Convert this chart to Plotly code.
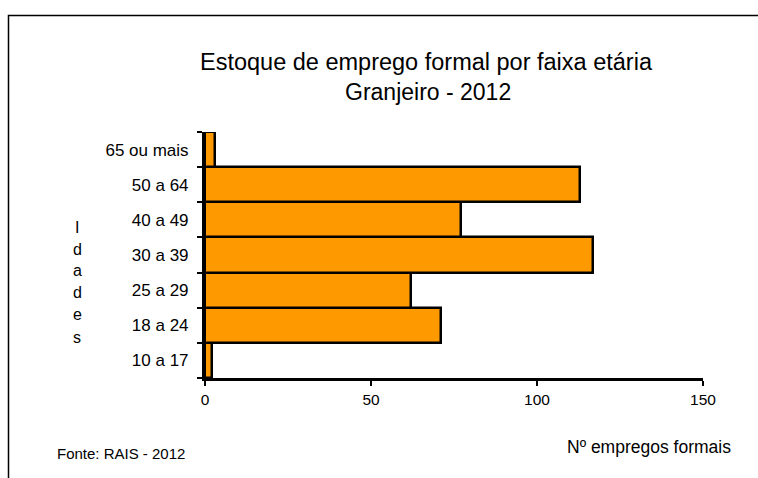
import plotly.graph_objects as go

categories = ["10 a 17", "18 a 24", "25 a 29", "30 a 39", "40 a 49", "50 a 64", "65 ou mais"]
values = [2, 71, 62, 117, 77, 113, 3]
x_ticks = [0, 50, 100, 150]
title_lines = ["Estoque de emprego formal por faixa etária", "Granjeiro - 2012"]
y_title_letters = ["I", "d", "a", "d", "e", "s"]
x_title = "Nº empregos formais"
source_text = "Fonte: RAIS - 2012"

W, H = 758, 478
L, R, T, B = 205, 55, 132, 100
PW, PH = W - L - R, H - T - B

def px(x):
    return (x - L) / PW

def py(y):
    return (H - B - y) / PH

FONT = "Liberation Sans, Arial, sans-serif"

fig = go.Figure(
    go.Bar(
        x=values,
        y=categories,
        orientation="h",
        marker=dict(color="#FF9900", line=dict(color="#000000", width=2.5)),
        hoverinfo="x+y",
    )
)

annotations = []
annotations.append(dict(text=title_lines[0], x=px(426), y=py(62), xref="paper", yref="paper",
                        showarrow=False, font=dict(size=23.5, color="black", family=FONT),
                        xanchor="center", yanchor="middle"))
annotations.append(dict(text=title_lines[1], x=px(428), y=py(92), xref="paper", yref="paper",
                        showarrow=False, font=dict(size=23, color="black", family=FONT),
                        xanchor="center", yanchor="middle"))
y_letter_pos = [227, 249, 270, 292, 314, 337]
for letter, yy in zip(y_title_letters, y_letter_pos):
    annotations.append(dict(text=letter, x=px(77), y=py(yy), xref="paper", yref="paper",
                            showarrow=False, font=dict(size=16, color="black", family=FONT),
                            xanchor="center", yanchor="middle"))
annotations.append(dict(text=x_title, x=px(733), y=py(447), xref="paper", yref="paper",
                        showarrow=False, font=dict(size=17.5, color="black", family=FONT),
                        xanchor="right", yanchor="middle"))
annotations.append(dict(text=source_text, x=px(55), y=py(453), xref="paper", yref="paper",
                        showarrow=False, font=dict(size=15, color="black", family=FONT),
                        xanchor="left", yanchor="middle"))

shapes = [dict(type="rect", xref="paper", yref="paper",
               x0=px(8.5), x1=px(770), y0=py(490), y1=py(15.5),
               line=dict(color="black", width=1.5), fillcolor="rgba(0,0,0,0)", layer="below")]

fig.update_layout(
    width=W, height=H,
    margin=dict(l=L, r=R, t=T, b=B, pad=0),
    paper_bgcolor="white", plot_bgcolor="white",
    bargap=0,
    showlegend=False,
    annotations=annotations,
    shapes=shapes,
    font=dict(family=FONT, color="black"),
)
fig.update_xaxes(
    range=[0, 150], tickvals=x_ticks, ticktext=[str(v) for v in x_ticks],
    showgrid=False, zeroline=False,
    showline=True, linecolor="black", linewidth=3,
    ticks="outside", ticklen=5, tickwidth=2, tickcolor="black",
    tickfont=dict(size=15.5, family=FONT, color="black"),
    fixedrange=True,
)
fig.update_yaxes(
    categoryorder="array", categoryarray=categories,
    showgrid=False, zeroline=False,
    showline=True, linecolor="black", linewidth=3,
    ticks="outside", ticklen=5, tickwidth=2, tickcolor="black", tickson="boundaries",
    tickfont=dict(size=17, family=FONT, color="black"),
    ticklabelstandoff=10,
    fixedrange=True,
)

fig.write_html("out.html", config={"displayModeBar": False},
               post_script="document.body.style.margin='0px';")
